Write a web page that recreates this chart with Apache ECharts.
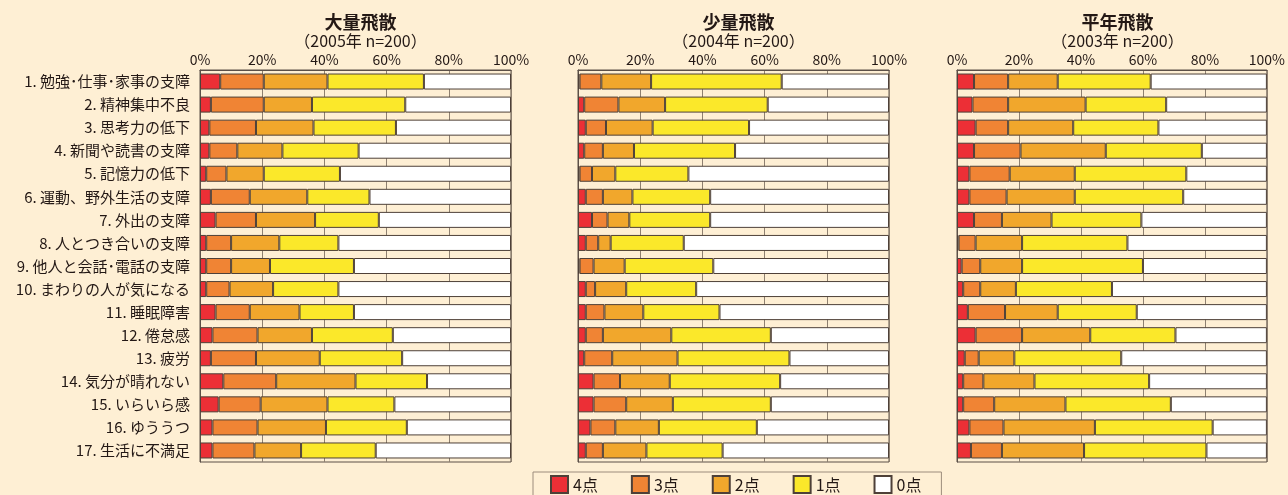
<!DOCTYPE html>
<html>
<head>
<meta charset="utf-8">
<script src="https://cdn.jsdelivr.net/npm/echarts@6/dist/echarts.min.js"></script>
<style>
  html, body { margin: 0; padding: 0; background: #feefd4; }
  #main { width: 1288px; height: 495px; }
</style>
</head>
<body>
<div id="main"></div>
<script>
// 項目
var categories = ['1. 勉強･仕事･家事の支障', '2. 精神集中不良', '3. 思考力の低下', '4. 新聞や読書の支障',
    '5. 記憶力の低下', '6. 運動、野外生活の支障', '7. 外出の支障', '8. 人とつき合いの支障',
    '9. 他人と会話･電話の支障', '10. まわりの人が気になる', '11. 睡眠障害', '12. 倦怠感',
    '13. 疲労', '14. 気分が晴れない', '15. いらいら感', '16. ゆううつ', '17. 生活に不満足'];
var levels = ['4点', '3点', '2点', '1点', '0点'];
var xTicks = [0, 20, 40, 60, 80, 100];

// 大量飛散 (2005)
var y2005_4 = [6.5, 3.5, 3, 3, 2, 3.5, 5, 2, 2, 2, 5, 4, 3.5, 7.5, 6, 4, 4];
var y2005_3 = [14, 17, 15, 9, 6.5, 12.5, 13, 8, 8, 7.5, 11, 14.5, 14.5, 17, 13.5, 14.5, 13.5];
var y2005_2 = [20.5, 15.5, 18.5, 14.5, 12, 18.5, 19, 15.5, 12.5, 14, 16, 17.5, 20.5, 25.5, 21.5, 22, 15];
var y2005_1 = [31, 30, 26.5, 24.5, 24.5, 20, 20.5, 19, 27, 21, 17.5, 26, 26.5, 23, 21.5, 26, 24];
var y2005_0 = [28, 34, 37, 49, 55, 45.5, 42.5, 55.5, 50.5, 55.5, 50.5, 38, 35, 27, 37.5, 33.5, 43.5];

// 少量飛散 (2004)
var y2004_4 = [0.5, 2, 2.5, 2, 0.5, 2.5, 4.5, 2.5, 0.5, 2.5, 2.5, 2.5, 2, 5, 5, 4, 2.5];
var y2004_3 = [7, 11, 6.5, 6, 4, 5.5, 5, 4, 4.5, 3, 6, 5.5, 9, 8.5, 10.5, 8, 5.5];
var y2004_2 = [16, 15, 15, 10, 7.5, 9.5, 7, 4, 10, 10, 12.5, 22, 21, 16, 15, 14, 14];
var y2004_1 = [42, 33, 31, 32.5, 23.5, 25, 26, 23.5, 28.5, 22.5, 24.5, 32, 36, 35.5, 31.5, 31.5, 24.5];
var y2004_0 = [34.5, 39, 45, 49.5, 64.5, 57.5, 57.5, 66, 56.5, 62, 54.5, 38, 32, 35, 38, 42.5, 53.5];

// 平年飛散 (2003)
var y2003_4 = [5.5, 5, 6, 5.5, 4, 4, 5.5, 0.5, 1.5, 2, 3.5, 6, 2.5, 2, 2, 4, 4.5];
var y2003_3 = [11, 11.5, 10.5, 15, 13, 12, 9, 5.5, 6, 5.5, 12, 15, 4.5, 6.5, 10, 11, 10];
var y2003_2 = [16, 25, 21, 27.5, 21, 22, 16, 15, 13.5, 11.5, 17, 22, 11.5, 16.5, 23, 29.5, 26.5];
var y2003_1 = [30, 26, 27.5, 31, 36, 35, 29, 34, 39, 31, 25.5, 27.5, 34.5, 37, 34, 38, 39.5];
var y2003_0 = [37.5, 32.5, 35, 21, 26, 27, 40.5, 45, 40, 50, 42, 29.5, 47, 38, 31, 17.5, 19.5];

var titles = ['大量飛散', '少量飛散', '平年飛散'];
var subtitles = ['（2005年 n=200）', '（2004年 n=200）', '（2003年 n=200）'];
var panelData = [
    [y2005_4, y2005_3, y2005_2, y2005_1, y2005_0],
    [y2004_4, y2004_3, y2004_2, y2004_1, y2004_0],
    [y2003_4, y2003_3, y2003_2, y2003_1, y2003_0]
];

var colors = ['#ec2f36', '#f08434', '#f1a72c', '#fbe82a', '#ffffff'];
var lefts = [200, 578, 957];
var plotW = 311;
var lineColor = '#5c5048';

function draw(id) {
    var dom = document.getElementById(id);
    var myChart = echarts.init(dom);

    var title = [], grid = [], xAxis = [], yAxis = [], series = [];
    for (var p = 0; p < 3; p++) {
        title.push({
            text: titles[p],
            subtext: subtitles[p],
            left: lefts[p] + plotW / 2,
            top: 8,
            textAlign: 'center',
            itemGap: 2,
            textStyle: { fontSize: 18, fontWeight: 'bold', color: '#231815' },
            subtextStyle: { fontSize: 16, color: '#231815' }
        });
        grid.push({
            left: lefts[p], width: plotW, top: 70, height: 392,
            show: true, borderColor: lineColor, borderWidth: 1
        });
        xAxis.push({
            gridIndex: p,
            type: 'value',
            position: 'top',
            min: xTicks[0], max: xTicks[xTicks.length - 1], interval: 20,
            axisLine: { show: true, lineStyle: { color: lineColor } },
            axisTick: { show: false },
            axisLabel: { formatter: '{value}%', fontSize: 14, color: '#231815', margin: 3 },
            splitLine: { show: true, lineStyle: { color: '#8e8070', width: 1 } }
        });
        yAxis.push({
            gridIndex: p,
            type: 'category',
            inverse: true,
            data: categories,
            axisLine: { show: true, lineStyle: { color: lineColor } },
            axisTick: { show: false },
            axisLabel: { show: p === 0, fontSize: 15, color: '#231815', margin: 10 }
        });
        for (var k = 0; k < levels.length; k++) {
            series.push({
                name: levels[k],
                type: 'bar',
                stack: 'panel' + p,
                xAxisIndex: p,
                yAxisIndex: p,
                barWidth: 16,
                itemStyle: { color: colors[k], borderColor: '#4e4038', borderWidth: 1 },
                data: panelData[p][k]
            });
        }
    }

    var option = {
        backgroundColor: '#feefd4',
        animation: false,
        textStyle: { fontFamily: 'Noto Sans CJK JP' },
        title: title,
        legend: {
            data: levels,
            icon: 'rect',
            left: 533,
            top: 472,
            itemWidth: 17,
            itemHeight: 17,
            itemGap: 33,
            padding: [3, 20, 8, 17],
            borderColor: '#9c8c7c',
            borderWidth: 1,
            textStyle: { fontSize: 16, color: '#231815' }
        },
        grid: grid,
        xAxis: xAxis,
        yAxis: yAxis,
        series: series
    };

    myChart.setOption(option, true);
}

draw('main');
</script>
</body>
</html>
